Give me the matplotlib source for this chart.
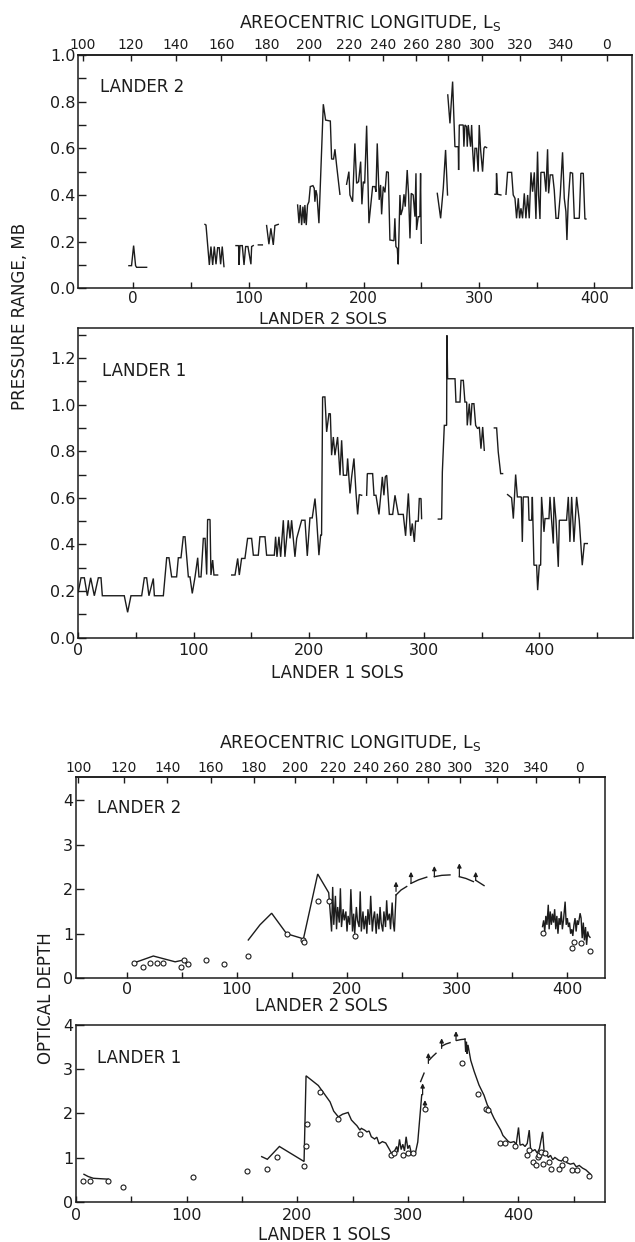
import numpy as np
import matplotlib
matplotlib.use("Agg")
import matplotlib.pyplot as plt

plt.rcParams.update({
    "font.family": ["DejaVu Sans"],
    "mathtext.default": "regular",
    "axes.linewidth": 1.1,
    "xtick.direction": "in",
    "ytick.direction": "in",
})

INK = "#1c1c1c"
W, H = 635, 1242

# ---------------------------------------------------------------- data
# Areocentric longitude marks, placed on the Lander 2 sol scale
ls_labels = ["100", "120", "140", "160", "180", "200", "220", "240",
             "260", "280", "300", "320", "340", "0"]
ls_sols = [-43.9, -2.4, 36.9, 76.5, 115.6, 152.8, 187.6, 217.0,
           245.1, 273.3, 302.6, 335.9, 371.3, 410.9]

# Lander 2 diurnal pressure range (mb), one list per continuous stretch
p2_sols = [
    [-3.8, -1.5, 0.3, 2.0, 2.9, 11.6],
    [62.2, 63.1, 64.5, 66.0, 67.4, 68.9, 70.3, 71.8, 73.2, 74.6, 75.8, 77.2, 78.7],
    [89.1, 91.4, 91.7, 92.6, 94.6, 96.1, 97.5, 99.5, 102.1, 102.7, 104.1],
    [108.5, 112.0],
    [115.7, 117.7, 119.4, 121.5, 122.9, 125.8],
    [142.6, 143.8, 144.9, 146.1, 147.2, 148.4, 148.9, 150.1, 151.2, 152.4, 153.6,
     155.9, 157.0, 157.6, 158.5, 159.4, 161.1, 164.9, 166.9, 171.0, 172.1, 173.8,
     175.0, 176.4, 179.3],
    [185.1, 187.1, 188.0, 190.3, 192.3, 193.8, 195.5, 197.3, 198.4, 199.6, 200.8,
     202.5, 204.5, 207.7, 209.7, 210.6, 211.7, 213.4, 214.6, 215.5, 216.9, 218.4,
     219.8, 221.3, 222.7, 226.2, 227.0, 227.9, 229.1, 229.9, 231.4, 232.2, 233.7,
     234.9, 236.0, 237.7, 238.9, 240.1, 241.2, 242.9, 244.4, 245.3, 245.8, 247.3,
     248.7, 249.3, 249.9],
    [263.8, 266.7, 269.0, 271.0, 272.7],
    [272.9, 274.8, 277.1, 279.1, 282.0, 282.3, 282.9, 286.3, 286.9, 287.8, 289.2,
     289.8, 290.7, 292.7, 293.6, 294.4, 295.6, 296.5, 297.9, 299.3, 300.2, 301.4,
     303.1, 304.3, 305.1, 306.6],
    [313.8, 315.0, 315.2, 316.1, 319.0],
    [323.4, 324.8, 328.3, 329.7, 331.2, 332.6, 334.1, 335.2, 336.4, 337.8, 339.3,
     340.7, 342.2, 343.6, 345.1, 346.5, 348.0, 349.4, 350.8, 351.7, 352.9, 353.7,
     356.6, 358.1, 359.5, 360.4, 361.8, 363.9, 365.3, 366.8, 368.8, 370.5, 372.5,
     374.0, 375.4, 376.3, 377.4, 379.2, 381.2, 382.7, 387.0, 388.4, 390.5, 391.9,
     392.8],
]
p2_vals = [
    [0.097, 0.097, 0.183, 0.097, 0.090, 0.090],
    [0.274, 0.271, 0.186, 0.100, 0.179, 0.100, 0.179, 0.103, 0.174, 0.174, 0.103, 0.179, 0.093],
    [0.183, 0.183, 0.100, 0.183, 0.183, 0.100, 0.179, 0.179, 0.103, 0.179, 0.183],
    [0.186, 0.186],
    [0.269, 0.189, 0.257, 0.186, 0.269, 0.274],
    [0.357, 0.279, 0.357, 0.271, 0.350, 0.279, 0.357, 0.271, 0.357, 0.371, 0.436,
     0.440, 0.429, 0.371, 0.421, 0.400, 0.279, 0.789, 0.721, 0.717, 0.554, 0.554,
     0.596, 0.529, 0.403],
    [0.446, 0.500, 0.400, 0.371, 0.621, 0.450, 0.457, 0.543, 0.360, 0.457, 0.450,
     0.697, 0.279, 0.436, 0.436, 0.414, 0.621, 0.379, 0.443, 0.317, 0.436, 0.411,
     0.500, 0.497, 0.207, 0.204, 0.300, 0.179, 0.171, 0.103, 0.400, 0.314, 0.340,
     0.403, 0.350, 0.507, 0.400, 0.214, 0.407, 0.400, 0.307, 0.493, 0.250, 0.307,
     0.307, 0.493, 0.193],
    [0.407, 0.300, 0.429, 0.593, 0.400],
    [0.829, 0.707, 0.886, 0.607, 0.607, 0.507, 0.700, 0.700, 0.607, 0.700, 0.693,
     0.607, 0.700, 0.607, 0.700, 0.600, 0.500, 0.600, 0.600, 0.500, 0.700, 0.593,
     0.500, 0.600, 0.607, 0.603],
    [0.403, 0.403, 0.493, 0.403, 0.400],
    [0.403, 0.497, 0.497, 0.400, 0.386, 0.300, 0.386, 0.300, 0.343, 0.300, 0.407,
     0.300, 0.400, 0.300, 0.497, 0.414, 0.497, 0.297, 0.586, 0.400, 0.297, 0.497,
     0.497, 0.414, 0.596, 0.407, 0.486, 0.486, 0.421, 0.300, 0.300, 0.400, 0.583,
     0.386, 0.329, 0.207, 0.371, 0.497, 0.493, 0.300, 0.300, 0.493, 0.493, 0.297,
     0.297],
]

# Lander 1 diurnal pressure range (mb)
p1_sols = [
    [0.0, 2.35, 5.24, 7.84, 10.73, 13.91, 17.38, 19.7, 20.85, 39.9, 42.8, 45.7,
     55.0, 57.3, 59.3, 61.3, 65.1, 66.0, 73.8, 76.7, 78.7, 81.0, 85.3, 86.8, 89.1,
     91.1, 92.6, 95.5, 96.9, 98.9, 101.3, 103.6, 104.7, 106.5, 108.5, 110.0, 111.4,
     112.2, 114.3, 115.1, 116.6, 117.7, 120.9],
    [133.1, 136.0, 138.3, 139.7, 141.7, 144.6, 146.9, 150.4, 151.9, 156.2, 157.6,
     162.0, 163.4, 170.1, 171.2, 172.4, 174.1, 175.6, 177.9, 179.3, 182.2, 183.7,
     185.1, 188.0, 189.5, 193.8, 196.7, 198.7, 201.0, 203.0, 205.4, 206.8, 208.8,
     210.3, 211.1, 212.0, 214.0, 215.5, 217.5, 218.7, 219.8, 221.3, 222.7, 225.0,
     227.1, 228.5, 230.0, 232.9, 233.7, 235.75, 237.2, 239.2, 241.0, 242.4, 243.8,
     245.9],
    [250.2, 250.8, 255.4, 256.6, 258.3, 260.9, 262.6, 263.8, 265.2, 266.4, 267.6,
     269.9, 272.8, 274.8, 277.7, 282.0, 284.0, 286.4, 287.8, 288.4, 289.8, 291.6,
     292.7, 295.0, 295.9, 297.4, 297.9],
    [312.4, 315.3, 315.9, 317.6, 319.6, 319.9, 320.5, 326.9, 327.7, 331.2, 332.1,
     334.1, 335.5, 337.0, 337.5, 339.3, 340.4, 341.6, 343.3, 344.8, 346.5, 348.0,
     349.4, 350.9, 352.3],
    [361.0, 363.0, 364.4, 366.5, 368.2],
    [372.5, 376.0, 377.5, 379.5, 381.0, 384.4, 385.3, 386.1, 390.5, 391.1, 393.4,
     394.0, 395.4, 397.7, 398.6, 400.0, 401.2, 402.0, 404.1, 405.0, 408.4, 409.3,
     410.7, 412.2, 412.8, 414.5, 416.5, 417.4, 423.7, 425.2, 426.6, 428.1, 430.1,
     432.4, 434.7, 437.3, 439.1, 441.7],
]
p1_vals = [
    [0.197, 0.257, 0.257, 0.180, 0.257, 0.180, 0.257, 0.257, 0.180, 0.180, 0.109, 0.180,
     0.180, 0.257, 0.257, 0.180, 0.254, 0.180, 0.180, 0.343, 0.343, 0.261, 0.261, 0.343,
     0.343, 0.433, 0.433, 0.261, 0.261, 0.190, 0.261, 0.343, 0.261, 0.261, 0.426, 0.426,
     0.271, 0.507, 0.507, 0.269, 0.333, 0.269, 0.269],
    [0.269, 0.269, 0.340, 0.269, 0.340, 0.340, 0.426, 0.426, 0.354, 0.354, 0.433,
     0.433, 0.354, 0.354, 0.433, 0.347, 0.433, 0.347, 0.504, 0.347, 0.504, 0.426,
     0.504, 0.347, 0.426, 0.504, 0.504, 0.351, 0.514, 0.514, 0.597, 0.511, 0.354,
     0.440, 0.440, 1.033, 1.033, 0.883, 0.961, 0.961, 0.783, 0.861, 0.783, 0.861,
     0.697, 0.847, 0.697, 0.697, 0.769, 0.619, 0.690, 0.769, 0.619, 0.529, 0.614,
     0.611],
    [0.611, 0.704, 0.704, 0.611, 0.611, 0.529, 0.619, 0.690, 0.611, 0.690, 0.697,
     0.529, 0.529, 0.611, 0.529, 0.529, 0.437, 0.619, 0.483, 0.437, 0.490, 0.411,
     0.500, 0.500, 0.597, 0.597, 0.511],
    [0.509, 0.509, 0.711, 0.911, 0.911, 1.297, 1.111, 1.111, 1.011, 1.011, 1.104,
     1.104, 1.011, 1.011, 0.911, 1.004, 0.911, 1.004, 1.004, 0.911, 0.897, 0.904,
     0.811, 0.904, 0.804],
    [0.900, 0.900, 0.797, 0.704, 0.704],
    [0.614, 0.600, 0.511, 0.700, 0.604, 0.604, 0.411, 0.604, 0.604, 0.504, 0.504,
     0.604, 0.311, 0.311, 0.204, 0.311, 0.311, 0.604, 0.454, 0.511, 0.511, 0.604,
     0.504, 0.404, 0.604, 0.504, 0.304, 0.504, 0.504, 0.604, 0.411, 0.604, 0.411,
     0.604, 0.504, 0.311, 0.404, 0.404],
]

# Lander 2 optical depth
od2_sols = [
    [6.0, 24.2, 44.0, 51.6, 54.5],
    [110.4, 121.0, 131.6, 145.2, 157.3, 160.4, 169.5, 173.4, 183.4, 185.0,
     186.0, 187.0, 188.0, 189.5, 190.5, 191.5, 193.0, 194.0, 195.0, 196.5,
     197.5, 199.0, 200.0, 201.0, 202.5, 203.5, 205.0, 206.0, 207.0, 208.5,
     209.5, 211.0, 212.0, 213.0, 214.5, 215.5, 217.0, 218.0, 219.0, 220.5,
     221.5, 223.0, 224.0, 225.0, 226.5, 227.5, 229.0, 230.0, 231.0, 232.5,
     233.5, 235.0, 236.0, 237.0, 238.5, 239.5, 241.0, 242.0, 243.0, 244.5],
    [377.5, 378.5, 379.5, 380.5, 381.5, 382.7, 383.5, 384.5, 385.5, 386.5,
     387.5, 388.5, 389.5, 390.5, 391.5, 392.5, 393.5, 394.5, 395.5, 396.5,
     398.0, 399.0, 400.0, 401.0, 402.0, 403.0, 404.0, 405.0, 406.0, 407.0,
     408.0, 409.0, 410.0, 411.6, 412.5, 413.5, 414.5, 415.5, 416.5, 417.5,
     418.5, 419.5, 420.6],
]
od2_vals = [
    [0.34, 0.50, 0.37, 0.41, 0.32],
    [0.86, 1.20, 1.46, 1.00, 0.91, 0.88, 1.90, 2.34, 1.92, 1.40,
     1.05, 2.05, 1.20, 1.85, 1.10, 1.60, 1.25, 2.02, 1.15, 1.55,
     1.30, 1.50, 1.05, 1.40, 1.20, 2.00, 1.05, 1.45, 1.00, 1.60,
     1.30, 1.15, 1.95, 1.05, 1.50, 1.10, 1.40, 1.00, 1.55, 1.20,
     1.85, 1.05, 1.35, 1.50, 1.00, 1.45, 1.10, 1.60, 1.25, 1.05,
     1.50, 1.15, 1.75, 1.30, 1.45, 1.10, 1.70, 1.25, 1.05, 1.87],
    [1.16, 1.30, 1.05, 1.40, 1.20, 1.65, 1.10, 1.50, 1.20, 1.45,
     1.25, 1.55, 1.10, 1.40, 1.00, 1.35, 1.20, 1.50, 1.10, 1.30,
     1.72, 1.20, 1.35, 1.15, 1.25, 1.00, 1.10, 0.95, 1.20, 1.35,
     1.05, 1.30, 1.20, 1.46, 1.35, 0.90, 1.25, 0.85, 1.15, 0.75,
     1.05, 0.95, 0.92],
]
od2_dome_sols = [[244.5, 249.0, 254.2], [258.1, 265.0, 272.4], [279.3, 286.0, 293.5],
                 [302.0, 308.0, 314.7], [316.8, 324.4]]
od2_dome_vals = [[1.87, 1.98, 2.06], [2.13, 2.21, 2.27], [2.28, 2.31, 2.32],
                 [2.28, 2.24, 2.17], [2.20, 2.08]]
od2_arrow_sols = [244.5, 258.1, 279.3, 302.0, 316.8]
od2_arrow_base = [1.95, 2.13, 2.28, 2.28, 2.20]
od2_arrow_tip = [2.17, 2.39, 2.52, 2.58, 2.39]
od2_pt_sols = [6.6, 14.5, 21.2, 27.8, 32.7, 49.0, 52.0, 55.3, 72.0, 88.6, 110.4,
               145.2, 159.8, 161.0, 173.4, 183.4, 207.3,
               377.6, 404.6, 406.4, 412.5, 420.6]
od2_pt_vals = [0.34, 0.26, 0.34, 0.34, 0.34, 0.25, 0.40, 0.31, 0.40, 0.31, 0.50,
               1.00, 0.86, 0.81, 1.73, 1.73, 0.96,
               1.02, 0.69, 0.82, 0.79, 0.61]

# Lander 1 optical depth
od1_sols = [
    [7.2, 11.0, 15.7, 29.2],
    [167.9, 173.0, 183.9, 206.2, 208.0, 219.1, 229.7, 233.0, 237.2, 241.0,
     246.0, 249.0, 252.0, 254.0, 256.7, 258.0, 261.0, 263.0, 265.0, 267.0,
     270.0, 272.0, 274.0, 277.0, 280.0, 283.0, 285.4, 288.0, 290.0, 291.0,
     292.5, 294.0, 295.5, 297.0, 298.5, 300.0, 301.5, 303.0, 305.0, 306.5,
     309.0, 312.6],
    [351.7, 352.3, 353.0, 353.6, 354.4, 356.9, 360.0, 364.4, 368.9, 371.9,
     374.0, 377.9, 381.0, 384.0, 386.0, 388.5, 391.0, 393.0, 396.0, 398.0,
     400.1, 401.5, 404.0, 406.0, 408.0, 409.8, 411.0, 413.0, 415.0, 417.0,
     419.0, 421.9, 423.5, 425.0, 427.0, 429.0, 431.0, 433.0, 436.3, 439.0,
     441.0, 444.0, 447.0, 450.0, 452.3, 455.0, 458.0, 461.0, 464.9],
]
od1_vals = [
    [0.62, 0.57, 0.53, 0.51],
    [1.02, 0.96, 1.25, 0.91, 2.85, 2.63, 2.26, 2.05, 1.92, 1.98,
     2.02, 1.85, 1.77, 1.72, 1.62, 1.66, 1.62, 1.58, 1.60, 1.47,
     1.42, 1.46, 1.31, 1.36, 1.33, 1.20, 1.09, 1.15, 1.25, 1.12,
     1.41, 1.18, 1.30, 1.15, 1.47, 1.20, 1.28, 1.12, 1.08, 1.06,
     1.35, 2.42],
    [3.68, 3.40, 3.62, 3.35, 3.55, 3.20, 2.95, 2.64, 2.41, 2.19,
     2.10, 1.89, 1.75, 1.62, 1.50, 1.43, 1.36, 1.34, 1.36, 1.30,
     1.68, 1.28, 1.30, 1.25, 1.32, 1.62, 1.20, 1.15, 1.18, 1.10,
     1.20, 1.58, 1.05, 1.12, 1.00, 1.05, 0.95, 1.00, 0.94, 0.92,
     0.98, 0.88, 0.85, 0.87, 0.79, 0.82, 0.76, 0.72, 0.63],
]
od1_dome_sols = [[311.6, 314.7], [319.5, 322.5, 325.5], [330.6, 334.5, 338.2], [344.2, 348.0, 351.7]]
od1_dome_vals = [[2.72, 2.91], [3.21, 3.29, 3.36], [3.52, 3.57, 3.60], [3.65, 3.67, 3.68]]
od1_arrow_sols = [313.4, 315.5, 318.6, 330.6, 343.6]
od1_arrow_base = [2.42, 2.12, 3.13, 3.47, 3.65]
od1_arrow_tip = [2.68, 2.30, 3.37, 3.70, 3.86]
od1_pt_sols = [6.0, 12.7, 28.6, 42.2, 106.1, 154.3, 172.4, 181.4, 206.2, 208.0,
               208.9, 220.6, 237.2, 256.7, 284.8, 287.8, 295.4, 300.5, 304.4, 315.5,
               348.7, 363.8, 370.7, 372.2, 383.4, 387.9, 396.9, 407.4, 410.0, 413.5,
               415.9, 417.5, 419.0, 420.5, 422.2, 424.0, 427.3, 429.7, 436.3, 439.3,
               441.7, 448.3, 452.9, 463.4]
od1_pt_vals = [0.47, 0.47, 0.47, 0.34, 0.56, 0.70, 0.73, 1.02, 0.81, 1.25,
               1.77, 2.49, 1.87, 1.53, 1.06, 1.11, 1.06, 1.11, 1.11, 2.09,
               3.13, 2.44, 2.09, 2.08, 1.34, 1.34, 1.26, 1.06, 1.18, 0.90,
               0.83, 1.02, 1.06, 1.12, 0.85, 1.10, 0.90, 0.75, 0.75, 0.83,
               0.96, 0.72, 0.72, 0.58]


# ---------------------------------------------------------------- helpers
def joined(sol_segs, val_segs):
    xs, ys = [], []
    for s, v in zip(sol_segs, val_segs):
        xs += list(s) + [np.nan]
        ys += list(v) + [np.nan]
    return np.array(xs), np.array(ys)


fig = plt.figure(figsize=(W / 100, H / 100), dpi=100)
fig.patch.set_facecolor("white")


def box(left, top, right, bottom):
    """Axes from a pixel box (left, top, right, bottom)."""
    return fig.add_axes([left / W, 1 - bottom / H, (right - left) / W, (bottom - top) / H])


def style(ax, xlim, ylim, xmajor, xminor, ymajor, yminor, yfmt, xpad, xsize=11.5):
    ax.set_xlim(*xlim)
    ax.set_ylim(*ylim)
    ax.set_xticks(xmajor)
    ax.set_xticks(xminor, minor=True)
    ax.set_xticklabels([f"{v:g}" for v in xmajor])
    ax.set_yticks(ymajor)
    ax.set_yticks(yminor, minor=True)
    ax.set_yticklabels([yfmt.format(v) for v in ymajor])
    ax.tick_params(axis="x", which="both", length=4.5, width=1.0, pad=xpad,
                   labelsize=xsize, colors=INK)
    ax.tick_params(axis="y", which="both", length=5.5, width=1.0, pad=2,
                   labelsize=11.5, colors=INK)
    for sp in ax.spines.values():
        sp.set_color(INK)


def ls_axis(ax, size, pad):
    sec = ax.secondary_xaxis("top")
    sec.set_xticks(ls_sols)
    sec.set_xticklabels(ls_labels)
    sec.tick_params(direction="in", length=4, width=1.0, pad=pad,
                    labelsize=size, colors=INK)
    sec.spines["top"].set_color(INK)


line_kw = dict(color=INK, lw=1.0, solid_joinstyle="miter")
pt_kw = dict(ls="none", marker="o", ms=3.6, mfc="white", mec=INK, mew=0.8, zorder=3)


def arrows(ax, sols, base, tip):
    for s, b, t in zip(sols, base, tip):
        ax.annotate("", xy=(s, t), xytext=(s, b),
                    arrowprops=dict(arrowstyle="-|>", lw=0.9, color=INK,
                                    mutation_scale=6, shrinkA=0, shrinkB=0))


# ---------------------------------------------------------------- pressure, Lander 2
ax1 = box(78.3, 55, 631.7, 288.3)
style(ax1, (-47.7, 432.5), (0, 1.0), [0, 100, 200, 300, 400], [50, 150, 250, 350],
      [0.0, 0.2, 0.4, 0.6, 0.8, 1.0], [0.1, 0.3, 0.5, 0.7, 0.9], "{:.1f}", 2, xsize=11)
ls_axis(ax1, 10, 2.5)
ax1.plot(*joined(p2_sols, p2_vals), **line_kw)
ax1.text(0.039, 0.864, "LANDER 2", transform=ax1.transAxes, fontsize=12,
         ha="left", va="center", color=INK)

# ---------------------------------------------------------------- pressure, Lander 1
ax2 = box(78.3, 327.7, 633.3, 637.7)
style(ax2, (0, 481.6), (0, 1.33), [0, 100, 200, 300, 400], [50, 150, 250, 350, 450],
      [0.0, 0.2, 0.4, 0.6, 0.8, 1.0, 1.2], [0.1, 0.3, 0.5, 0.7, 0.9, 1.1, 1.3], "{:.1f}", 4)
ax2.plot(*joined(p1_sols, p1_vals), **line_kw)
ax2.text(0.042, 0.860, "LANDER 1", transform=ax2.transAxes, fontsize=12,
         ha="left", va="center", color=INK)

# ---------------------------------------------------------------- optical depth, Lander 2
ax3 = box(76, 777.3, 605, 978.3)
style(ax3, (-46.0, 434.2), (0, 4.51), [0, 100, 200, 300, 400], [50, 150, 250, 350],
      [0, 1, 2, 3, 4], [], "{:d}", 2.5)
ls_axis(ax3, 10, 2)
ax3.plot(*joined(od2_sols, od2_vals), **line_kw)
ax3.plot(*joined(od2_dome_sols, od2_dome_vals), **line_kw)
arrows(ax3, od2_arrow_sols, od2_arrow_base, od2_arrow_tip)
ax3.plot(od2_pt_sols, od2_pt_vals, **pt_kw)
ax3.text(0.040, 0.848, "LANDER 2", transform=ax3.transAxes, fontsize=12,
         ha="left", va="center", color=INK)

# ---------------------------------------------------------------- optical depth, Lander 1
ax4 = box(76, 1025, 605, 1201.7)
style(ax4, (0, 478.3), (0, 4.0), [0, 100, 200, 300, 400], [50, 150, 250, 350, 450],
      [0, 1, 2, 3, 4], [], "{:d}", 4.5)
ax4.plot(*joined(od1_sols, od1_vals), **line_kw)
ax4.plot(*joined(od1_dome_sols, od1_dome_vals), **line_kw)
arrows(ax4, od1_arrow_sols, od1_arrow_base, od1_arrow_tip)
ax4.plot(od1_pt_sols, od1_pt_vals, **pt_kw)
ax4.text(0.040, 0.816, "LANDER 1", transform=ax4.transAxes, fontsize=12,
         ha="left", va="center", color=INK)

# ---------------------------------------------------------------- labels
def ftext(x, y, s, **kw):
    fig.text(x / W, 1 - y / H, s, ha="center", va="center", color=INK, **kw)


ftext(370, 23.3, "AREOCENTRIC LONGITUDE, L$_S$", fontsize=12.5)
ftext(350, 743.3, "AREOCENTRIC LONGITUDE, L$_S$", fontsize=12.5)
ftext(323, 319, "LANDER 2 SOLS", fontsize=11.5)
ftext(337, 673, "LANDER 1 SOLS", fontsize=12)
ftext(321, 1006, "LANDER 2 SOLS", fontsize=12)
ftext(324, 1235, "LANDER 1 SOLS", fontsize=12)
ftext(20, 316, "PRESSURE RANGE, MB", fontsize=12, rotation=90)
ftext(46, 998, "OPTICAL DEPTH", fontsize=12, rotation=90)

fig.savefig("out.png", dpi=100, facecolor="white")
